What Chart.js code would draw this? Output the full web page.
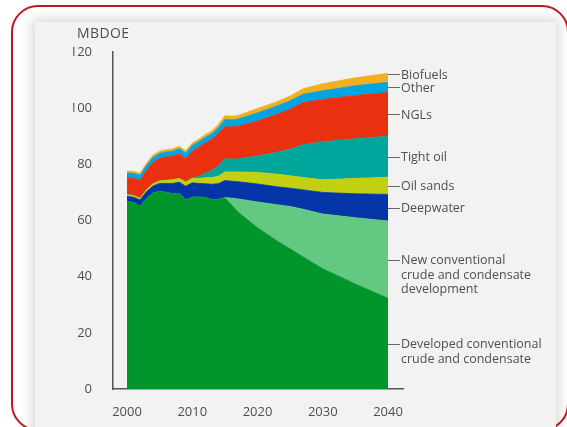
<!DOCTYPE html>
<html>
<head>
<meta charset="utf-8">
<script src="https://cdn.jsdelivr.net/npm/chart.js@4.4.1/dist/chart.umd.min.js"></script>
<style>
  html, body { margin: 0; padding: 0; background: #fff; }
  body { width: 567px; height: 427px; position: relative; overflow: hidden; }
  .frame {
    position: absolute; left: 11px; top: 5px; width: 558px; height: 426px;
    box-sizing: border-box; border: 2px solid #c3161c; border-radius: 27px;
  }
  .panel {
    position: absolute; left: 35px; top: 22px; width: 521px; height: 430px;
    background: #f2f2f2; box-shadow: 0 0 12px 3px rgba(0,0,0,0.16);
  }
  canvas { position: absolute; left: 0; top: 0; }
</style>
</head>
<body>
<div class="frame"></div>
<div class="panel"></div>
<canvas id="chart" width="567" height="427"></canvas>
<script>
// years on the x axis
const years = [2000, 2001, 2002, 2003, 2004, 2005, 2006, 2007, 2008, 2009,
  2010, 2011, 2012, 2013, 2014, 2015, 2016, 2017, 2020, 2023, 2025, 2027, 2030, 2035, 2040];

// million barrels per day oil equivalent, stacked bottom to top
const developed = [66.8, 66.3, 65.1, 67.8, 69.8, 70.3, 70.0, 69.5, 69.5, 67.3,
  68.3, 68.3, 68.2, 67.4, 67.5, 68.0, 65.6, 63.0, 57.4, 52.7, 49.9, 47.0, 42.8, 37.4, 32.3];
const newConventional = [0, 0, 0, 0, 0, 0, 0, 0, 0, 0,
  0, 0, 0, 0, 0, 0.1, 2.4, 4.7, 9.2, 12.9, 15.1, 17.0, 19.5, 23.6, 27.5];
const deepwater = [1.8, 2.0, 2.2, 2.5, 2.5, 2.9, 3.2, 3.7, 4.1, 4.9,
  5.1, 4.9, 4.9, 5.5, 5.6, 6.1, 6.0, 6.1, 6.4, 6.4, 6.5, 6.9, 7.7, 8.5, 9.5];
const oilSands = [0.6, 0.6, 0.6, 0.7, 0.8, 0.9, 1.1, 1.3, 1.4, 1.5,
  1.6, 1.8, 2.1, 2.4, 2.7, 3.1, 3.3, 3.5, 4.1, 4.5, 4.4, 4.4, 4.5, 5.5, 6.1];
const tightOil = [0, 0, 0, 0, 0, 0, 0, 0, 0, 0,
  0.2, 0.8, 1.5, 2.5, 3.7, 4.7, 4.6, 4.6, 5.9, 7.8, 9.5, 11.7, 13.5, 14.1, 14.6];
const ngls = [6.0, 6.1, 6.4, 6.9, 7.6, 8.0, 8.3, 8.4, 8.7, 8.3,
  9.5, 10.3, 10.9, 11.0, 11.5, 11.4, 11.4, 11.6, 12.4, 13.5, 14.2, 15.0, 15.1, 15.4, 15.6];
const other = [1.7, 1.8, 1.8, 1.8, 1.8, 1.8, 1.8, 1.8, 1.9, 2.0,
  2.0, 2.0, 2.0, 2.1, 2.1, 2.6, 2.5, 2.6, 2.9, 3.0, 3.0, 3.0, 3.1, 3.5, 3.6];
const biofuels = [0.7, 0.7, 0.7, 0.8, 0.8, 0.8, 0.8, 0.8, 0.8, 0.8,
  0.9, 0.9, 1.0, 1.0, 1.1, 1.3, 1.3, 1.3, 1.6, 1.5, 1.7, 1.9, 2.5, 2.8, 3.2];

const seriesLabels = [
  ['Developed conventional', 'crude and condensate'],
  ['New conventional', 'crude and condensate', 'development'],
  ['Deepwater'],
  ['Oil sands'],
  ['Tight oil'],
  ['NGLs'],
  ['Other'],
  ['Biofuels']
];
const yearTicks = [2000, 2010, 2020, 2030, 2040];
const valueTicks = [0, 20, 40, 60, 80, 100, 120];

const series = [developed, newConventional, deepwater, oilSands, tightOil, ngls, other, biofuels];
const colors = ['#00962b', '#63c982', '#0334a8', '#c1d112', '#00a69b', '#e9300f', '#05a3e0', '#f2b01c'];

const textColor = '#4f4f4f';
const font = '"Open Sans", "Noto Sans", sans-serif';

const datasets = series.map((vals, i) => ({
  label: seriesLabels[i].join(' '),
  data: vals.map((v, j) => ({ x: years[j], y: v })),
  backgroundColor: colors[i],
  borderColor: colors[i],
  borderWidth: 0.8,
  fill: i === 0 ? 'origin' : '-1',
  pointRadius: 0,
  tension: 0
}));

// series names with leader lines at the right edge, plus the unit label
const sideLabels = {
  id: 'sideLabels',
  afterDraw(chart) {
    const { ctx } = chart;
    const xs = chart.scales.x, ys = chart.scales.y;
    const last = years.length - 1;
    const x0 = xs.getPixelForValue(years[last]);

    let base = 0;
    let prevY = Infinity;
    const spots = series.map(vals => {
      const v = vals[last];
      let y = ys.getPixelForValue(base + v / 2);
      base += v;
      if (y > prevY - 13) y = prevY - 13;
      prevY = y;
      return y;
    });

    ctx.save();
    ctx.strokeStyle = '#6a6a6a';
    ctx.lineWidth = 1;
    ctx.fillStyle = textColor;
    ctx.font = '12.5px ' + font;
    ctx.textAlign = 'left';
    ctx.textBaseline = 'middle';
    spots.forEach((y, i) => {
      const yy = Math.round(y) + 0.5;
      ctx.beginPath();
      ctx.moveTo(x0, yy);
      ctx.lineTo(x0 + 12, yy);
      ctx.stroke();
      seriesLabels[i].forEach((line, k) => {
        ctx.fillText(line, x0 + 13, y + 1 + k * 14.5);
      });
    });

    ctx.font = '14px ' + font;
    ctx.letterSpacing = '0.4px';
    ctx.fillText('MBDOE', 77, 34);
    ctx.restore();
  }
};

new Chart(document.getElementById('chart'), {
  type: 'line',
  data: { datasets },
  options: {
    responsive: false,
    animation: false,
    layout: { padding: { left: 73, right: 164, top: 52, bottom: 0 } },
    plugins: { legend: { display: false }, tooltip: { enabled: false } },
    scales: {
      x: {
        type: 'linear',
        min: 1997.85,
        max: 2042.3,
        grid: { display: false },
        border: { color: '#555', width: 1.5 },
        afterBuildTicks: s => { s.ticks = yearTicks.map(v => ({ value: v })); },
        afterFit: s => { s.height = 38; },
        ticks: {
          color: textColor,
          font: { family: font, size: 13 },
          padding: 7,
          maxRotation: 0,
          callback: v => String(v)
        }
      },
      y: {
        stacked: true,
        min: 0,
        max: 120,
        grid: { display: false },
        border: { color: '#555', width: 1.5 },
        afterBuildTicks: s => { s.ticks = valueTicks.map(v => ({ value: v })); },
        afterFit: s => { s.width = 40; },
        ticks: {
          color: textColor,
          font: { family: font, size: 13 },
          padding: 13
        }
      }
    }
  },
  plugins: [sideLabels]
});
</script>
</body>
</html>
